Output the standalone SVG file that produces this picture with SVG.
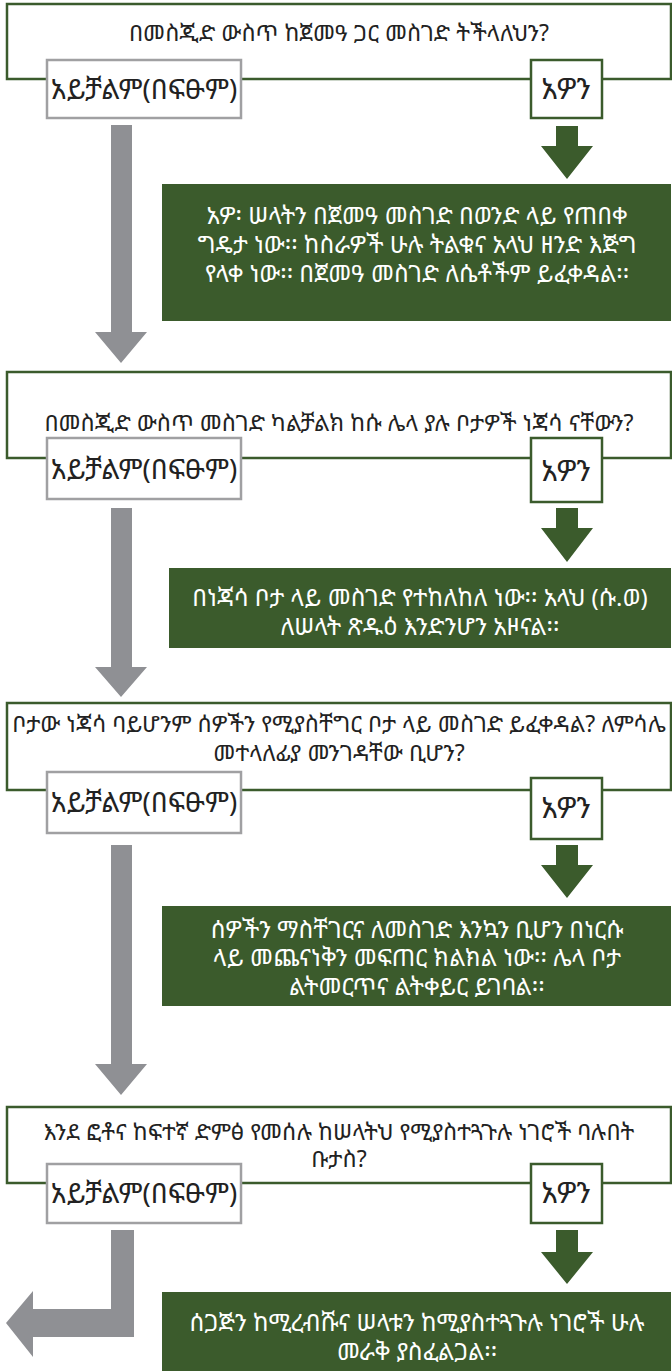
<svg xmlns="http://www.w3.org/2000/svg" width="672" height="1371" viewBox="0 0 672 1371">
<style>
.q{fill:#fff;stroke:#3b5b2c;stroke-width:2.5}
.ln{fill:#fff;stroke:#a0a0a2;stroke-width:2.5}
.ly{fill:#fff;stroke:#3b5b2c;stroke-width:2.5}
.gb{fill:#3b5b2c}
.ga{fill:#8f9094}
.gr{fill:#3b5b2c}
text{font-family:"Noto Sans Ethiopic","Noto Sans","DejaVu Sans",sans-serif;text-anchor:middle}
.tq{font-size:23px;fill:#222}
.tl{font-size:27.5px;fill:#222}
.ty{font-size:29px;fill:#222}
.tw{font-size:24px;fill:#fff}
</style>
<rect width="672" height="1371" fill="#fff"/>
<g id="connectors">
<polygon class="ga" points="111,125 132,125 132,332 147,332 121,363 95,332 111,332"/>
<polygon class="gr" points="556,126 578,126 578,146 593,146 567,179 541,146 556,146"/>
<polygon class="ga" points="111,508 132,508 132,667 147,667 121,697 95,667 111,667"/>
<polygon class="gr" points="556,508 578,508 578,528 593,528 567,562 541,528 556,528"/>
<polygon class="ga" points="111,845 132,845 132,1064 147,1064 121,1095 95,1064 111,1064"/>
<polygon class="gr" points="556,845 578,845 578,865 593,865 567,898 541,865 556,865"/>
<polygon class="ga" points="111,1230 134,1230 134,1337 33,1337 33,1357 6,1323 33,1291 33,1309 111,1309"/>
<polygon class="gr" points="556,1230 578,1230 578,1252 593,1252 567,1284 541,1252 556,1252"/>
</g>
<g id="q1">
<rect class="q" x="7" y="4" width="664" height="75"/>
<text class="tq" x="339" y="41">በመስጂድ ውስጥ ከጀመዓ ጋር መስገድ ትችላለህን?</text>
</g>
<g id="no1"><rect class="ln" x="47" y="60" width="194" height="58"/><text class="tl" x="144" y="99">አይቻልም(በፍፁም)</text></g>
<g id="yes1"><rect class="ly" x="531" y="60" width="71" height="58"/><text class="ty" x="566" y="99">አዎን</text></g>
<g id="a1">
<rect class="gb" x="162" y="184" width="509" height="137"/>
<text class="tw" x="417" y="224">አዎ፡ ሠላትን በጀመዓ መስገድ በወንድ ላይ የጠበቀ</text>
<text class="tw" x="417" y="253">ግዴታ ነው፡፡ ከስራዎች ሁሉ ትልቁና አላህ ዘንድ እጅግ</text>
<text class="tw" x="417" y="282">የላቀ ነው፡፡ በጀመዓ መስገድ ለሴቶችም ይፈቀዳል፡፡</text>
</g>
<g id="q2">
<rect class="q" x="7" y="372" width="664" height="86"/>
<text class="tq" x="339" y="431">በመስጂድ ውስጥ መስገድ ካልቻልክ ከሱ ሌላ ያሉ ቦታዎች ነጃሳ ናቸውን?</text>
</g>
<g id="no2"><rect class="ln" x="47" y="438" width="194" height="61"/><text class="tl" x="144" y="479">አይቻልም(በፍፁም)</text></g>
<g id="yes2"><rect class="ly" x="531" y="438" width="71" height="64"/><text class="ty" x="566" y="481">አዎን</text></g>
<g id="a2">
<rect class="gb" x="169" y="568" width="502" height="80"/>
<text class="tw" x="420" y="606">በነጃሳ ቦታ ላይ መስገድ የተከለከለ ነው፡፡ አላህ (ሱ.ወ)</text>
<text class="tw" x="420" y="635">ለሠላት ጽዱዕ እንድንሆን አዞናል፡፡</text>
</g>
<g id="q3">
<rect class="q" x="7" y="703" width="664" height="87"/>
<text class="tq" x="339" y="732">ቦታው ነጃሳ ባይሆንም ሰዎችን የሚያስቸግር ቦታ ላይ መስገድ ይፈቀዳል? ለምሳሌ</text>
<text class="tq" x="339" y="761">መተላለፊያ መንገዳቸው ቢሆን?</text>
</g>
<g id="no3"><rect class="ln" x="47" y="772" width="194" height="61"/><text class="tl" x="144" y="812">አይቻልም(በፍፁም)</text></g>
<g id="yes3"><rect class="ly" x="531" y="778" width="71" height="61"/><text class="ty" x="566" y="818">አዎን</text></g>
<g id="a3">
<rect class="gb" x="162" y="906" width="509" height="100"/>
<text class="tw" x="417" y="938">ሰዎችን ማስቸገርና ለመስገድ እንኳን ቢሆን በነርሱ</text>
<text class="tw" x="417" y="966">ላይ መጨናነቅን መፍጠር  ክልክል ነው፡፡ ሌላ ቦታ</text>
<text class="tw" x="417" y="995">ልትመርጥና ልትቀይር ይገባል፡፡</text>
</g>
<g id="q4">
<rect class="q" x="7" y="1107" width="664" height="76"/>
<text class="tq" x="339" y="1140">እንደ ፎቶና ከፍተኛ ድምፅ የመሰሉ ከሠላትህ የሚያስተጓጉሉ ነገሮች ባሉበት</text>
<text class="tq" x="339" y="1167">ቡታስ?</text>
</g>
<g id="no4"><rect class="ln" x="47" y="1164" width="194" height="59"/><text class="tl" x="144" y="1203">አይቻልም(በፍፁም)</text></g>
<g id="yes4"><rect class="ly" x="531" y="1164" width="71" height="59"/><text class="ty" x="566" y="1203">አዎን</text></g>
<g id="a4">
<rect class="gb" x="162" y="1292" width="509" height="79"/>
<text class="tw" x="417" y="1331">ሰጋጅን ከሚረብሹና ሠላቱን ከሚያስተጓጉሉ ነገሮች ሁሉ</text>
<text class="tw" x="417" y="1360">መራቅ ያስፈልጋል፡፡</text>
</g>
</svg>
